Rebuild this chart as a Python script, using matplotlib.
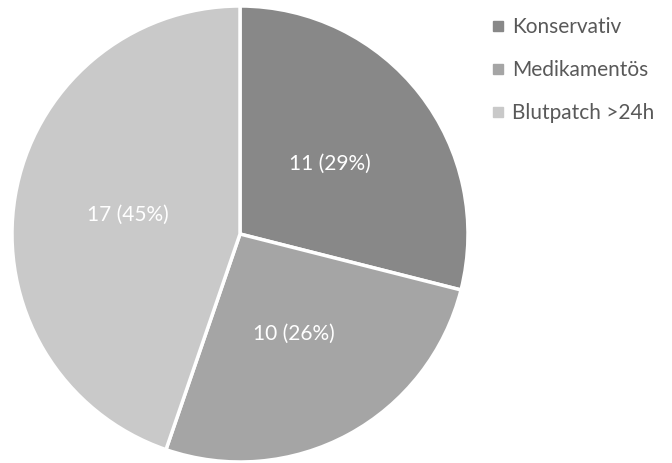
import matplotlib
matplotlib.use('Agg')
import matplotlib.pyplot as plt
from matplotlib.lines import Line2D

plt.rcParams['font.family'] = ['Lato', 'DejaVu Sans']

categories = ['Konservativ', 'Medikamentös', 'Blutpatch >24h']
counts = [11, 10, 17]
colors = ['#888888', '#a5a5a5', '#c9c9c9']

total = sum(counts)
labels = ['%d (%d%%)' % (c, round(100.0 * c / total)) for c in counts]

fig = plt.figure(figsize=(6.72, 4.63), dpi=100)
# square box for the pie, radius 1 fills it
ax = fig.add_axes([(240 - 228) / 672, (463 - 234 - 228) / 463, 456 / 672, 456 / 463])
wedges, texts = ax.pie(counts, labels=labels, colors=colors, startangle=90,
                       counterclock=False, labeldistance=0.5,
                       wedgeprops=dict(edgecolor='white', linewidth=2.5),
                       textprops=dict(color='white', fontsize=15))
for t in texts:
    t.set_horizontalalignment('center')
    t.set_verticalalignment('center')
ax.set_xlim(-1, 1)
ax.set_ylim(-1, 1)
ax.set_aspect('equal')
ax.axis('off')

handles = [Line2D([], [], linestyle='none', marker='s', markersize=6.5,
                  markerfacecolor=c, markeredgecolor=c) for c in colors]
leg = fig.legend(handles, categories, loc='upper left',
                 bbox_to_anchor=(481 / 672, 1 - 7 / 463), frameon=False,
                 fontsize=15, labelspacing=1.1, handlelength=0.6,
                 handletextpad=0.4, borderpad=0)
for t in leg.get_texts():
    t.set_color('#595959')

fig.savefig('out.png', dpi=100)
